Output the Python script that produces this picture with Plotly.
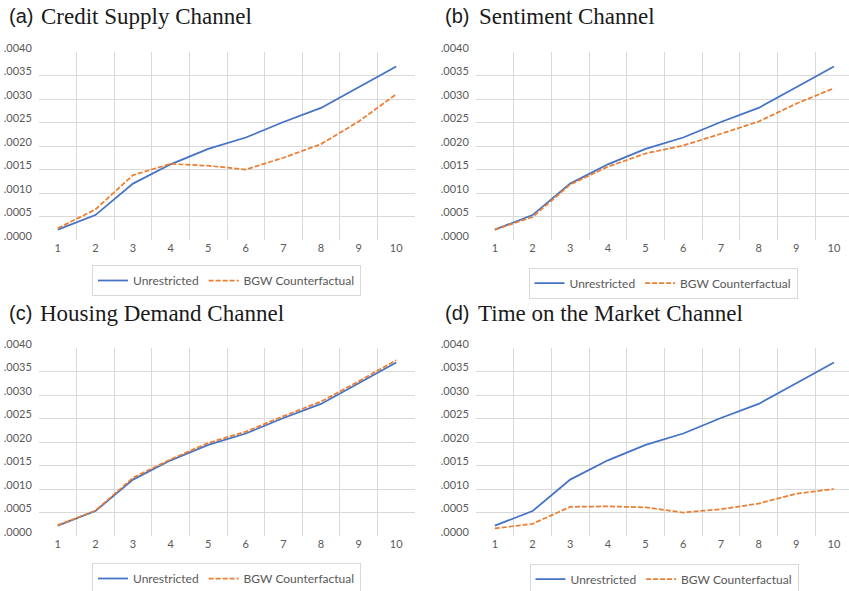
import plotly.graph_objects as go

periods = [1, 2, 3, 4, 5, 6, 7, 8, 9, 10]
unrestricted = [0.00022, 0.00053, 0.00120, 0.00161, 0.00194, 0.00218, 0.00251, 0.00281, 0.00325, 0.00369]
bgw_credit = [0.00025, 0.00065, 0.00138, 0.00162, 0.00158, 0.00150, 0.00175, 0.00204, 0.00252, 0.00310]
bgw_sentiment = [0.00022, 0.00049, 0.00118, 0.00156, 0.00184, 0.00201, 0.00226, 0.00252, 0.00290, 0.00323]
bgw_housing = [0.00023, 0.00054, 0.00124, 0.00163, 0.00198, 0.00222, 0.00255, 0.00286, 0.00329, 0.00374]
bgw_time = [0.00016, 0.00026, 0.00062, 0.00063, 0.00061, 0.00050, 0.00057, 0.00069, 0.00090, 0.00100]

panel_letters = ["(a)", "(b)", "(c)", "(d)"]
panel_titles = ["Credit Supply Channel", "Sentiment Channel", "Housing Demand Channel", "Time on the Market Channel"]
bgw_series = [bgw_credit, bgw_sentiment, bgw_housing, bgw_time]

y_tickvals = [0.0, 0.0005, 0.0010, 0.0015, 0.0020, 0.0025, 0.0030, 0.0035, 0.0040]
y_ticktext = [".0000", ".0005", ".0010", ".0015", ".0020", ".0025", ".0030", ".0035", ".0040"]
y_gridvals = [0.0005, 0.0010, 0.0015, 0.0020, 0.0025, 0.0030, 0.0035]
x_gridvals = [1.5, 2.5, 3.5, 4.5, 5.5, 6.5, 7.5, 8.5, 9.5]

W, H = 849, 591
BLUE = "#4472C4"
ORANGE = "#ED7D31"
GRID = "#d9d9d9"
LABEL = "#595959"
TICKFONT = dict(family="Lato", size=11, color=LABEL)

# panel geometry in pixels: (plot left, plot right, plot top, plot bottom, x range end)
panels = [
    (39, 415, 52, 240, 10.5),
    (476, 849, 52, 240, 10.4),
    (39, 415, 348, 536, 10.5),
    (476, 849, 348, 536, 10.4),
]
legend_centers = [(226.5, 280.5), (663, 283), (226.5, 578.5), (664, 579)]
letter_pos = [(7, 16), (443, 16), (7, 313), (443, 313)]
title_x = [39, 477, 38, 476]

fig = go.Figure()
layout = dict(
    width=W, height=H,
    margin=dict(l=0, r=0, t=0, b=0, autoexpand=False),
    paper_bgcolor="white", plot_bgcolor="white",
    annotations=[],
)

for i in range(4):
    n = "" if i == 0 else str(i + 1)
    left, right, top, bottom, xend = panels[i]
    leg = "legend" + n
    fig.add_trace(go.Scatter(
        x=periods, y=unrestricted, mode="lines", name="Unrestricted",
        line=dict(color=BLUE, width=1.75),
        xaxis="x" + n, yaxis="y" + n, legend=leg,
    ))
    fig.add_trace(go.Scatter(
        x=periods, y=bgw_series[i], mode="lines", name="BGW Counterfactual",
        line=dict(color=ORANGE, width=1.75, dash="5px,2px"),
        xaxis="x" + n, yaxis="y" + n, legend=leg,
    ))
    layout["xaxis" + n] = dict(
        domain=[left / W, right / W], anchor="y" + n, automargin=False,
        range=[0.5, xend], tickvals=periods, ticktext=[str(p) for p in periods],
        showgrid=False, zeroline=False, showline=False, ticks="",
        tickfont=TICKFONT, fixedrange=True,
        minor=dict(tickvals=x_gridvals, showgrid=True, gridcolor=GRID, gridwidth=1, ticks=""),
    )
    layout["yaxis" + n] = dict(
        domain=[(H - bottom) / H, (H - top) / H], anchor="x" + n, automargin=False,
        range=[0, 0.004], tickvals=y_tickvals, ticktext=y_ticktext,
        showgrid=False, zeroline=False, showline=False,
        ticks="outside", ticklen=0, ticklabelshift=-4, ticklabelstandoff=4,
        tickfont=TICKFONT, fixedrange=True,
        minor=dict(tickvals=y_gridvals, showgrid=True, gridcolor=GRID, gridwidth=1, ticks="inside", ticklen=0),
    )
    cx, cy = legend_centers[i]
    layout[leg] = dict(
        orientation="h", x=cx / W, y=(H - cy) / H, xanchor="center", yanchor="middle",
        xref="paper", yref="paper",
        bordercolor=GRID, borderwidth=1, bgcolor="white",
        font=dict(family="Lato", size=12, color=LABEL),
        itemwidth=30, tracegroupgap=0,
    )
    lx, ly = letter_pos[i]
    layout["annotations"].append(dict(
        xref="paper", yref="paper", x=lx / W, y=(H - ly) / H,
        xanchor="left", yanchor="middle", showarrow=False,
        text=panel_letters[i],
        font=dict(family="Liberation Sans", size=20, color="#1a1a1a"),
    ))
    layout["annotations"].append(dict(
        xref="paper", yref="paper", x=title_x[i] / W, y=(H - ly) / H,
        xanchor="left", yanchor="middle", showarrow=False,
        text=panel_titles[i],
        font=dict(family="Liberation Serif", size=23, color="#1a1a1a"),
    ))

fig.update_layout(**layout)
fig.write_html(
    "out.html",
    config={"displayModeBar": False, "staticPlot": True},
    post_script="document.body.style.margin='0px';document.body.style.padding='0px';document.body.style.overflow='hidden';",
)
